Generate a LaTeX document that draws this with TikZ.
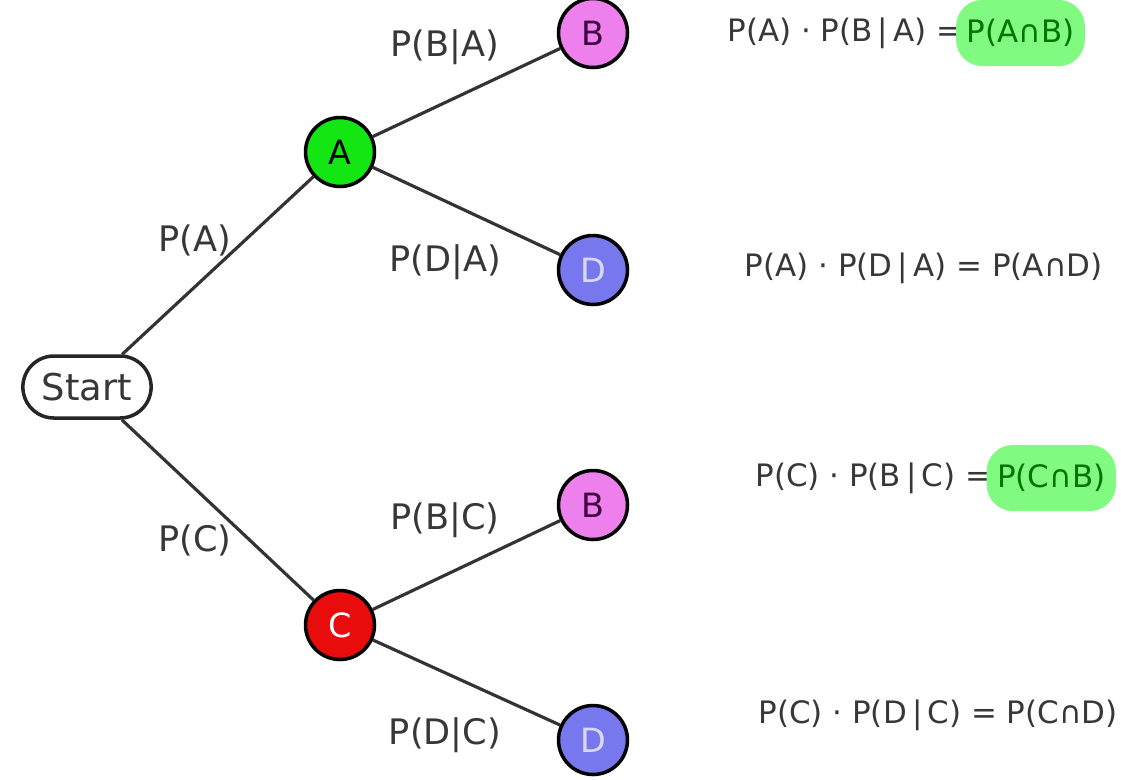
\documentclass[tikz,border=0pt]{standalone}
\usepackage{fontspec}
\setmainfont{DejaVu Sans}
\usetikzlibrary{positioning,shapes.misc}
\definecolor{agreen}{RGB}{20,230,20}
\definecolor{bpink}{RGB}{238,128,238}
\definecolor{dblue}{RGB}{120,120,238}
\definecolor{cred}{RGB}{232,12,12}
\definecolor{hlgreen}{RGB}{128,250,128}
\definecolor{inkgray}{RGB}{55,55,55}
\tikzset{
  evt/.style   = {circle, draw=black, line width=2pt, minimum size=1.38cm,
                  inner sep=0pt, font=\fontsize{19}{20}\selectfont},
  startbox/.style = {rounded rectangle, draw=black!85, line width=2pt, fill=white,
                  minimum width=2.8cm, minimum height=1.24cm,
                  font=\fontsize{21}{23}\selectfont, text=inkgray},
  branch/.style = {draw=black!80, line width=1.8pt},
  plab/.style  = {font=\fontsize{20}{22}\selectfont, text=inkgray},
  eq/.style    = {font=\fontsize{17.6}{19}\selectfont, text=inkgray, inner sep=0pt},
  hl/.style    = {eq, fill=hlgreen, text=green!45!black, rounded corners=15pt,
                  inner xsep=6pt, inner ysep=11pt}
}
\begin{document}
\begin{tikzpicture}[x=0.02cm, y=-0.02cm]
  \useasboundingbox (0,0) rectangle (1121,779);
  % tree
  \node[startbox] (start) at (87,387) {Start};
  \node[evt, fill=agreen] (a) at (340,152) {A};
  \node[evt, fill=cred, text=white] (c) at (340,625) {C};
  \node[evt, fill=bpink, text=violet!50!black] (ab) at (593,33) {B};
  \node[evt, fill=dblue, text=white!85!blue] (ad) at (593,270) {D};
  \node[evt, fill=bpink, text=violet!50!black] (cb) at (593,505) {B};
  \node[evt, fill=dblue, text=white!85!blue] (cd) at (593,740) {D};
  \draw[branch] (start) -- (a);
  \draw[branch] (start) -- (c);
  \draw[branch] (a) -- (ab);
  \draw[branch] (a) -- (ad);
  \draw[branch] (c) -- (cb);
  \draw[branch] (c) -- (cd);
  % branch labels
  \node[plab] (la) at (195,240) {P(A)};
  \node[plab] (lc) at (195,540) {P(C)};
  \node[plab] (lab) at (445,47) {P(B|A)};
  \node[plab] (lad) at (445,262) {P(D|A)};
  \node[plab] (lcb) at (445,520) {P(B|C)};
  \node[plab] (lcd) at (445,735) {P(D|C)};
  % products
  \node[eq, anchor=west] (e1) at (727,33) {P(A) · P(B\,|\,A) =};
  \node[hl, right=-4pt of e1] (h1) {P(A∩B)};
  \node[eq, anchor=east] (e2) at (1103,268) {P(A) · P(D\,|\,A) = P(A∩D)};
  \node[eq, anchor=west] (e3) at (755,478) {P(C) · P(B\,|\,C) =};
  \node[hl, right=-3pt of e3] (h3) {P(C∩B)};
  \node[eq, anchor=east] (e4) at (1118,715) {P(C) · P(D\,|\,C) = P(C∩D)};
\end{tikzpicture}
\end{document}
